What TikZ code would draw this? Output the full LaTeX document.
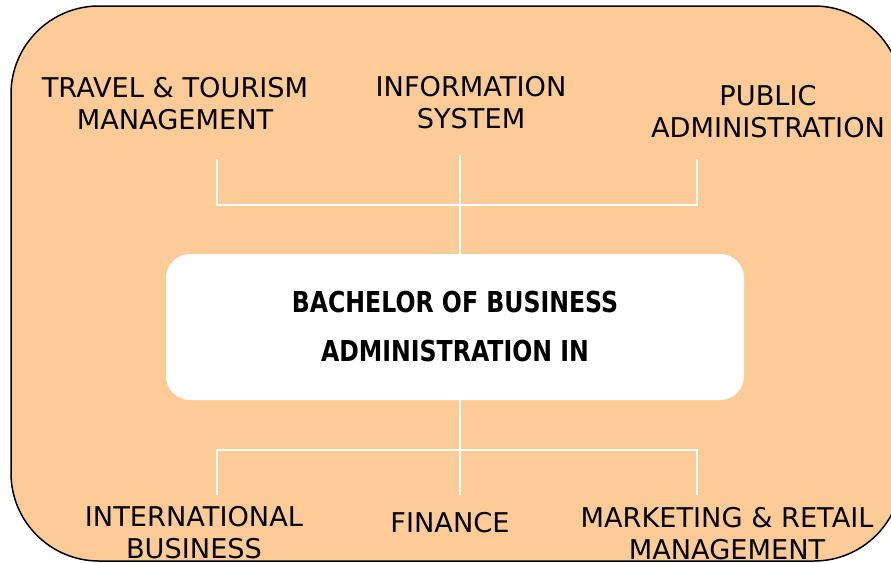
\documentclass[tikz,border=0pt]{standalone}
\usepackage{fontspec}
\setmainfont{DejaVu Sans}
\newfontfamily\boldf{DejaVu Sans}[FakeStretch=0.82]
\definecolor{peach}{HTML}{FCCB98}
\tikzset{
  lbl/.style={font=\fontsize{27.2}{32}\selectfont, align=center, inner sep=0pt, anchor=base, text=black},
  conn/.style={draw=white, line width=2.2pt},
}
\begin{document}
\begin{tikzpicture}[x=1pt,y=-1pt]
\useasboundingbox (0,0) rectangle (891,562);
\clip (0,0) rectangle (891,562);
\draw[fill=peach, draw=black, line width=1.5pt, rounded corners=88pt] (11,6) rectangle (902,561);
\node[fill=white, rounded corners=24pt, minimum width=578pt, minimum height=146pt, inner sep=0pt] (c) at (455,327) {};
\node[font=\boldf\bfseries\fontsize{28.8}{49}\selectfont, align=center, inner sep=0pt, anchor=base] (ct) at (455,361) {BACHELOR OF BUSINESS\\ADMINISTRATION IN};
\node[lbl] (t1) at (175,129) {TRAVEL \& TOURISM\\MANAGEMENT};
\node[lbl] (t2) at (471,128) {INFORMATION\\SYSTEM};
\node[lbl] (t3) at (768,137) {PUBLIC\\ADMINISTRATION};
\node[lbl] (b1) at (194,558) {INTERNATIONAL\\BUSINESS};
\node[lbl] (b2) at (450,532) {FINANCE};
\node[lbl] (b3) at (727,559) {MARKETING \& RETAIL\\MANAGEMENT};
\coordinate (tl) at (217,159);
\coordinate (tr) at (697,159);
\coordinate (tm) at (460,155);
\coordinate (hl) at (217,205);
\coordinate (hr) at (697,205);
\coordinate (bl) at (217,495);
\coordinate (br) at (697,495);
\coordinate (bm) at (460,495);
\coordinate (gl) at (217,450);
\coordinate (gr) at (697,450);
\draw[conn] (tl) -- (hl) -- (hr) -- (tr);
\draw[conn] (tm) -- (tm |- c.north);
\draw[conn] (bl) -- (gl) -- (gr) -- (br);
\draw[conn] (bm) -- (bm |- c.south);
\end{tikzpicture}
\end{document}
